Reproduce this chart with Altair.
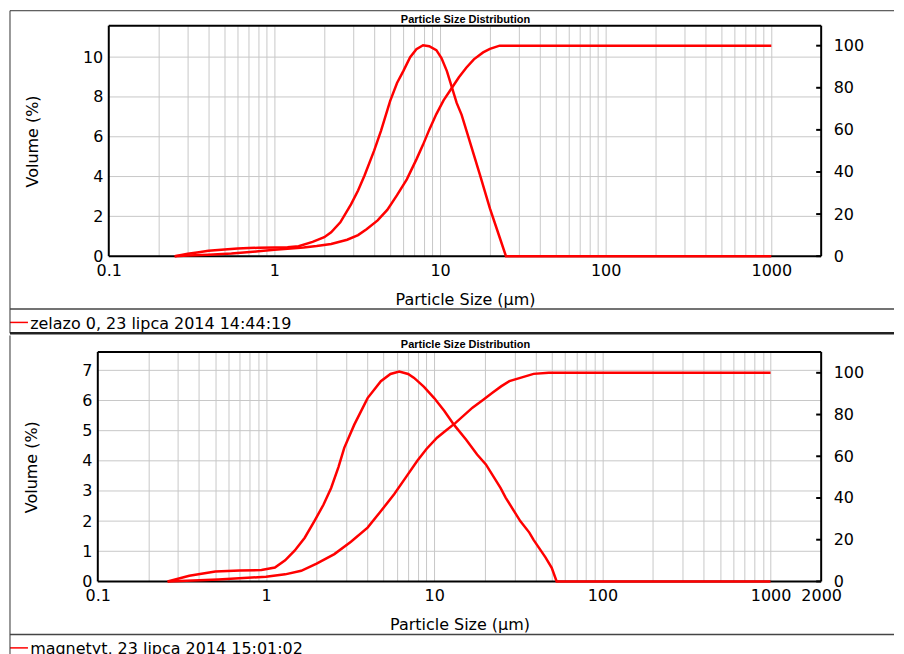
import altair as alt
import pandas as pd

FONT = "DejaVu Sans"
TITLE_FONT = "Liberation Sans"
RED = "#ff0000"
GRID = "#c8c8c8"

chart_title = "Particle Size Distribution"
x_title = "Particle Size (µm)"
y_title = "Volume (%)"

# x grid positions (log minor lines) and labelled values
grid_x = [0.1, 0.2, 0.3, 0.4, 0.5, 0.6, 0.7, 0.8, 0.9,
          1, 2, 3, 4, 5, 6, 7, 8, 9,
          10, 20, 30, 40, 50, 60, 70, 80, 90,
          100, 200, 300, 400, 500, 600, 700, 800, 900,
          1000, 2000]
x_labels_1 = [0.1, 1, 10, 100, 1000]
x_labels_2 = [0.1, 1, 10, 100, 1000, 2000]
cum_ticks = [0, 20, 40, 60, 80, 100]

# ---------------- panel 1: zelazo 0 ----------------
legend_1 = "zelazo 0, 23 lipca 2014 14:44:19"
vol_ticks_1 = [0, 2, 4, 6, 8, 10]
size_vol_1 = [0.25, 0.3, 0.35, 0.4, 0.5, 0.6, 0.7, 0.8, 1.0, 1.2,
              1.4, 1.7, 2.0, 2.2, 2.5, 2.9, 3.2, 3.5, 4.0, 4.4,
              5.0, 5.5, 6.0, 6.6, 7.2, 7.9, 8.6, 9.5, 10.2, 11.0,
              12.6, 13.5, 15.0, 17.4, 20.0, 23.0, 25.0, 1000]
vol_1 = [0, 0.12, 0.2, 0.27, 0.34, 0.38, 0.41, 0.42, 0.43, 0.45,
         0.5, 0.72, 0.95, 1.2, 1.7, 2.6, 3.3, 4.05, 5.3, 6.3,
         7.8, 8.7, 9.3, 10.0, 10.4, 10.6, 10.55, 10.35, 9.95, 9.3,
         7.7, 7.1, 5.85, 4.1, 2.4, 0.9, 0, 0]
size_cum_1 = [0.25, 0.3, 0.4, 0.55, 0.8, 1.0, 1.2, 1.5, 1.8, 2.2,
              2.75, 3.2, 3.6, 4.2, 4.8, 5.5, 6.3, 7.2, 7.9, 8.6,
              9.5, 10.5, 11.8, 13.0, 14.4, 16.0, 18.2, 20.0, 22.9, 1000]
cum_1 = [0, 0.3, 0.7, 1.3, 2.3, 3.0, 3.5, 4.1, 4.8, 5.8,
         7.8, 10, 12.8, 17, 22, 29, 36.5, 46, 53, 60,
         67.5, 74, 80, 85, 89.5, 93.5, 96.8, 98.5, 100, 100]

# ---------------- panel 2: magnetyt ----------------
legend_2 = "magnetyt, 23 lipca 2014 15:01:02"
vol_ticks_2 = [0, 1, 2, 3, 4, 5, 6, 7]
size_vol_2 = [0.26, 0.35, 0.5, 0.7, 0.94, 1.13, 1.3, 1.48, 1.7, 1.94,
              2.2, 2.44, 2.7, 2.92, 3.35, 4.02, 4.82, 5.5, 6.2, 7.0,
              7.6, 8.7, 10.0, 11.5, 13.1, 15.5, 18.0, 20.3, 24.8, 26.6,
              32.5, 36.8, 39.0, 46.0, 50.0, 53.5, 1000]
vol_2 = [0, 0.19, 0.33, 0.36, 0.38, 0.46, 0.7, 1.02, 1.45, 2.0,
         2.55, 3.1, 3.8, 4.43, 5.2, 6.08, 6.64, 6.88, 6.96, 6.88,
         6.75, 6.45, 6.08, 5.65, 5.2, 4.7, 4.21, 3.88, 3.1, 2.78,
         2.0, 1.62, 1.38, 0.79, 0.45, 0, 0]
size_cum_2 = [0.26, 0.52, 1.0, 1.3, 1.62, 2.0, 2.55, 3.2, 4.02, 4.8,
              5.78, 6.8, 7.94, 9.0, 10.4, 11.8, 13.4, 16.9, 19.5, 22.2,
              25.0, 28.0, 32.5, 39.0, 48.0, 1000]
cum_2 = [0, 0.9, 2.25, 3.4, 5.1, 8.5, 13.1, 19.0, 25.8, 33.5,
         41.8, 50.0, 57.8, 63.5, 68.9, 72.5, 76.0, 83.3, 87.0, 90.4,
         93.5, 96.0, 97.6, 99.5, 100, 100]

one = pd.DataFrame({"k": [0]})
W = 725          # view width shared by both panels (aligned origins)
FRAME_L = -88    # outer frame left edge, relative to view origin
FRAME_R = 798    # outer frame right edge


def hrule(x1, x2, y, w, c="#333333"):
    return alt.Chart(one).mark_rule(color=c, strokeWidth=w).encode(
        x=alt.value(x1), x2=alt.value(x2), y=alt.value(y))


def vrule(x, y1, y2, w, c="#333333"):
    return alt.Chart(one).mark_rule(color=c, strokeWidth=w).encode(
        x=alt.value(x), y=alt.value(y1), y2=alt.value(y2))


def panel(size_vol, vol, size_cum, cum, vol_dom, cum_dom, vol_ticks, x_labels,
          legend, x0, height, g):
    lab_arr = "[" + ",".join(str(v) for v in x_labels) + "]"
    x_axis = alt.Axis(
        values=grid_x, grid=True, gridColor=GRID, gridWidth=1,
        gridOpacity={"condition": {"test": "datum.value <= 0.1 || datum.value >= 2000", "value": 0}, "value": 1},
        ticks=False, tickSize=0, domain=False,
        labelExpr=f"indexof({lab_arr}, datum.value) >= 0 ? datum.value + '' : ''",
        labelOverlap=False, labelFlush=False, labelPadding=6,
        labelFont=FONT, labelFontSize=16, labelColor="#000000",
        title=x_title, titleFont=FONT, titleFontSize=16, titleFontWeight="normal",
        titleColor="#000000", titleBaseline="alphabetic", titleY=48)
    x_enc = alt.X("size:Q", scale=alt.Scale(type="log", domain=[0.1, 2000], nice=False,
                                             range=[x0, W]), axis=x_axis)

    y_left = alt.Axis(
        values=vol_ticks, grid=False, ticks=False, tickSize=0, domain=False,
        labelFlush=False, labelPadding=6, offset=-x0,
        labelFont=FONT, labelFontSize=16, labelColor="#000000", orient="left",
        title=y_title, titleFont=FONT, titleFontSize=16, titleFontWeight="normal",
        titleColor="#000000", titlePadding=42)
    y_right = alt.Axis(
        values=cum_ticks, grid=False, ticks=False, tickSize=0, domain=False,
        labelFlush=False, labelPadding=12, labelFont=FONT, labelFontSize=16,
        labelColor="#000000", orient="right", title=None)

    df_vol = pd.DataFrame({"size": size_vol, "vol": vol})
    df_grid = pd.DataFrame({"vol": vol_ticks[1:]})
    df_cum = pd.DataFrame({"size": size_cum, "cum": cum})
    df_tk = pd.DataFrame({"cum": cum_ticks})

    y_vol = alt.Y("vol:Q", scale=alt.Scale(domain=vol_dom, nice=False), axis=y_left)
    grid_rules = alt.Chart(df_grid).mark_rule(color=GRID, strokeWidth=1).encode(
        x=alt.value(x0), x2=alt.value(W), y=y_vol)
    border = [vrule(x0, 0, height, 2, "#000000"), vrule(W, 0, height, 2, "#000000"),
              hrule(x0, W, 0, 2, "#000000"), hrule(x0, W, height, 2, "#000000")]
    vol_line = alt.Chart(df_vol).mark_line(color=RED, strokeWidth=2.5).encode(x=x_enc, y=y_vol)
    vol_layer = alt.layer(grid_rules, *border, vol_line)

    y_cum = alt.Y("cum:Q", scale=alt.Scale(domain=cum_dom, nice=False), axis=y_right)
    cum_line = alt.Chart(df_cum).mark_line(color=RED, strokeWidth=2.5).encode(x=x_enc, y=y_cum)
    cum_tk = alt.Chart(df_tk).mark_rule(color="#000000", strokeWidth=2).encode(
        x=alt.value(W - 5), x2=alt.value(W), y=y_cum)
    cum_layer = alt.layer(cum_line, cum_tk)

    title_mark = alt.Chart(pd.DataFrame({"t": [chart_title]})).mark_text(
        align="center", baseline="alphabetic", font=TITLE_FONT, fontSize=11,
        fontWeight="bold", color="#000000").encode(
        text="t:N", x=alt.value(g["title_x"]), y=alt.value(g["title_y"]))
    legend_text = alt.Chart(pd.DataFrame({"t": [legend]})).mark_text(
        align="left", baseline="alphabetic", font=FONT, fontSize=16,
        color="#000000").encode(
        text="t:N", x=alt.value(FRAME_L + 20.2), y=alt.value(g["leg_y"]))
    legend_line = alt.Chart(one).mark_rule(color=RED, strokeWidth=1.5).encode(
        x=alt.value(FRAME_L), x2=alt.value(FRAME_L + 18), y=alt.value(g["leg_line_y"]))

    layers = [vol_layer, cum_layer, title_mark, legend_text, legend_line]
    layers += [vrule(FRAME_L, g["frame_top"], g["frame_end"], 1)]
    if g.get("top_line") is not None:
        layers += [hrule(FRAME_L, FRAME_R, g["top_line"], 1)]
    layers += [hrule(FRAME_L, FRAME_R, g["frame_bottom"], 1.5, "#444444")]
    if g.get("legend_bottom") is not None:
        layers += [hrule(FRAME_L, FRAME_R, g["legend_bottom"], 2.5, "#222222")]

    return alt.layer(*layers).resolve_scale(y="independent").properties(
        width=W, height=height)


top = panel(size_vol_1, vol_1, size_cum_1, cum_1, [0, 11.58], [0, 109.5], vol_ticks_1,
            x_labels_1, legend_1, 11, 231,
            dict(frame_top=-15, frame_end=308.2, top_line=-15,
                 frame_bottom=284, legend_bottom=308.2, leg_line_y=297.4,
                 leg_y=304, title_x=368.5, title_y=-2.6))
bottom = panel(size_vol_2, vol_2, size_cum_2, cum_2, [0, 7.61], [0, 110], vol_ticks_2,
               x_labels_2, legend_2, 0, 230,
               dict(frame_top=-16.5, frame_end=303.3, top_line=None,
                    frame_bottom=283.3, legend_bottom=None, leg_line_y=296.6,
                    leg_y=302.3, title_x=368.5, title_y=-4))

chart = alt.vconcat(top, bottom, spacing=0).properties(
    padding={"left": 0, "top": 1, "right": 0, "bottom": 0}
).configure_view(stroke=None, strokeWidth=0)

chart.save("out.html", embed_options={"renderer": "svg", "actions": False})
